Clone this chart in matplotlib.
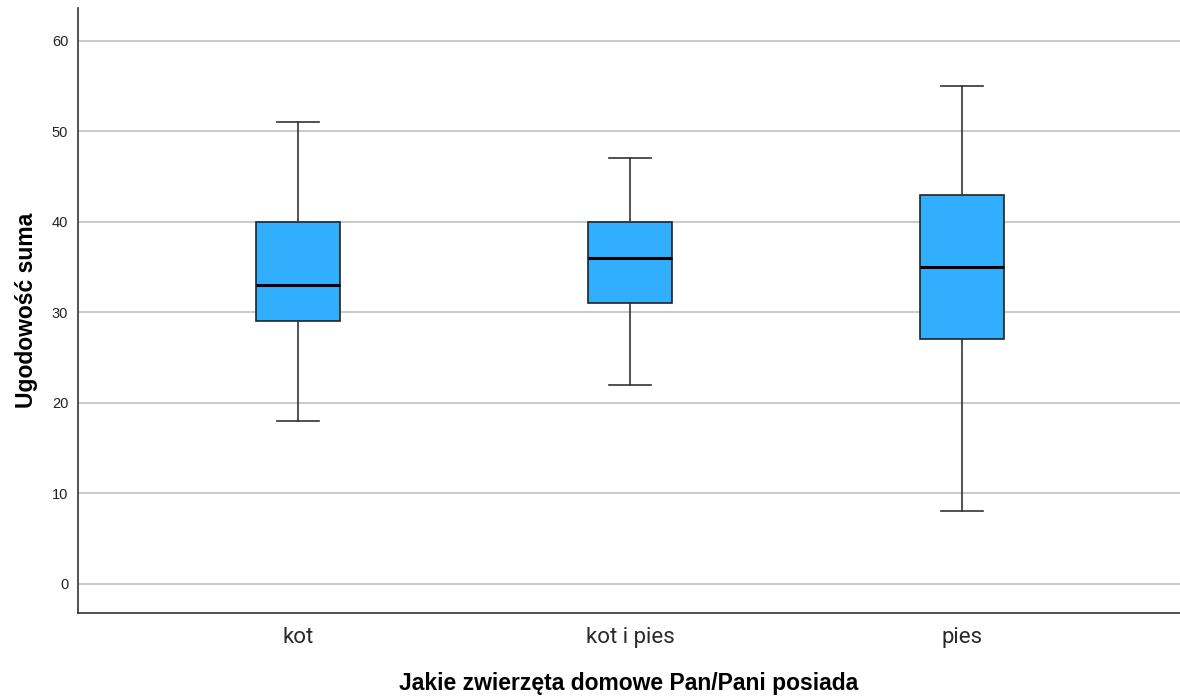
import matplotlib
matplotlib.use("Agg")
import matplotlib.pyplot as plt

categories = ["kot", "kot i pies", "pies"]
whislo = [18, 22, 8]
q1 = [29, 31, 27]
med = [33, 36, 35]
q3 = [40, 40, 43]
whishi = [51, 47, 55]
yticks = [0, 10, 20, 30, 40, 50, 60]

stats = []
for i, name in enumerate(categories):
    stats.append(dict(label=name, whislo=whislo[i], q1=q1[i], med=med[i],
                      q3=q3[i], whishi=whishi[i], fliers=[]))

fig = plt.figure(figsize=(11.8, 6.98), dpi=100)
ax = fig.add_axes([0.0661, 0.1213, 0.934, 0.8667])

ax.bxp(stats, positions=range(len(categories)), widths=0.253, patch_artist=True,
       showfliers=False,
       boxprops=dict(facecolor="#31aefe", edgecolor="#222222", linewidth=1.2),
       medianprops=dict(color="black", linewidth=2.2),
       whiskerprops=dict(color="#333333", linewidth=1.2),
       capprops=dict(color="#333333", linewidth=1.2),
       capwidths=0.128, zorder=3)

ax.set_xlim(-0.663, 2.657)
ax.set_ylim(-3.27, 63.58)
ax.set_yticks(yticks)
ax.yaxis.grid(True, color="#c0c0c0", linewidth=1.2)
ax.set_axisbelow(True)
for s in ["top", "right"]:
    ax.spines[s].set_visible(False)
for s in ["left", "bottom"]:
    ax.spines[s].set_color("#333333")
    ax.spines[s].set_linewidth(1.2)

ax.tick_params(axis="both", length=0)
ax.tick_params(axis="y", pad=7, labelcolor="#222222")
for lab in ax.get_yticklabels():
    lab.set_fontsize(10.5)
    lab.set_family(["Liberation Sans", "DejaVu Sans"])
ax.set_xticks(range(len(categories)))
ax.set_xticklabels(categories, fontsize=16, color="#2a2a2a",
                   family=["Roboto", "DejaVu Sans"])
ax.tick_params(axis="x", pad=10)

ax.set_ylabel("Ugodowość suma", fontsize=16.5, fontweight="bold",
              family=["Liberation Sans", "DejaVu Sans"], labelpad=10)
ax.set_xlabel("Jakie zwierzęta domowe Pan/Pani posiada", fontsize=16.5,
              fontweight="bold", family=["Liberation Sans", "DejaVu Sans"], labelpad=17)

fig.savefig("out.png", dpi=100)
